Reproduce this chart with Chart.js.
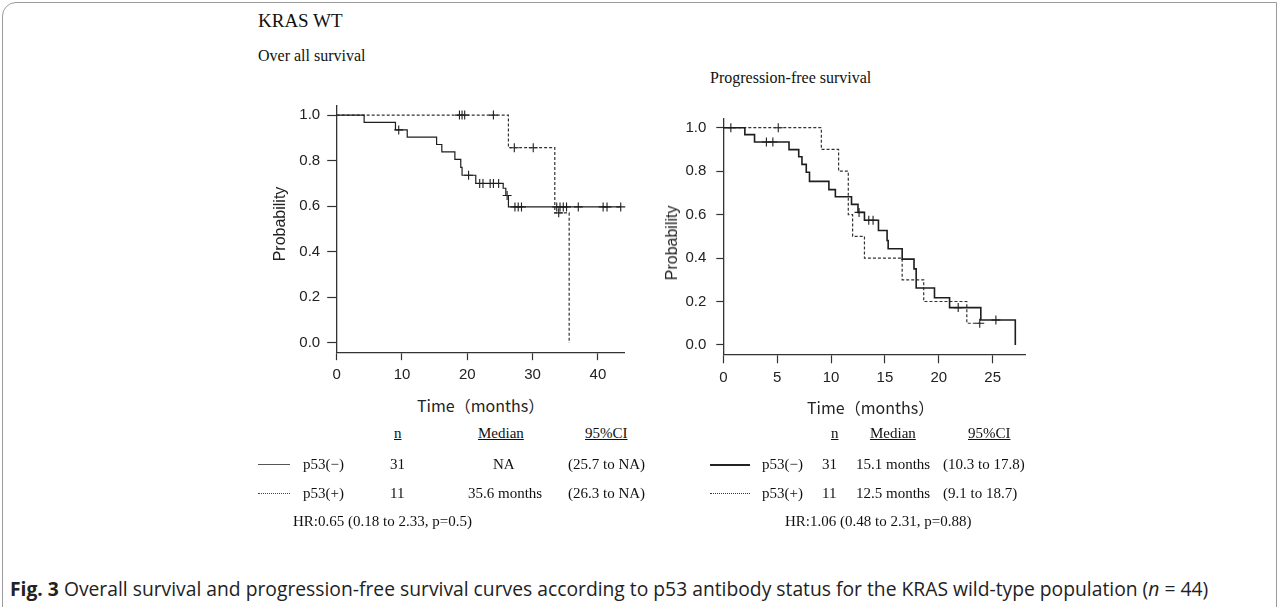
<!DOCTYPE html>
<html>
<head>
<meta charset="utf-8">
<script src="https://cdn.jsdelivr.net/npm/chart.js@4.4.1/dist/chart.umd.min.js"></script>
<style>
  html,body{margin:0;padding:0;background:#fff;}
  body{width:1281px;height:607px;position:relative;overflow:hidden;font-family:"Liberation Serif",serif;color:#111;}
  .abs{position:absolute;white-space:nowrap;}
  .serif{font-family:"Liberation Serif",serif;}
  .frame{position:absolute;left:2px;top:2px;width:1275px;height:620px;border:1px solid #9a9a9a;border-top-left-radius:14px;box-sizing:border-box;}
  canvas{position:absolute;}
  .tbl{font-size:15px;line-height:16px;}
  .u{text-decoration:underline;}
  .axt{font-family:"Noto Sans CJK JP",sans-serif;font-size:16px;line-height:16px;color:#222;}
  .prob{font-family:"Liberation Sans",sans-serif;font-size:16px;line-height:16px;color:#222;transform:translate(-50%,-50%) rotate(-90deg);}
  .cap{font-family:"Open Sans",sans-serif;font-size:19.3px;line-height:20px;color:#222;}
</style>
</head>
<body>
<div class="frame"></div>

<div class="abs serif" style="left:258px;top:10px;font-size:19px;line-height:22px;">KRAS WT</div>
<div class="abs serif" style="left:258px;top:47px;font-size:16px;line-height:18px;">Over all survival</div>
<div class="abs serif" style="left:710px;top:69px;font-size:16px;line-height:18px;">Progression-free survival</div>

<canvas id="os" width="420" height="300" style="left:230px;top:90px;"></canvas>
<canvas id="pfs" width="430" height="290" style="left:620px;top:100px;"></canvas>

<div class="abs prob" style="left:280px;top:224px;">Probability</div>
<div class="abs prob" style="left:672px;top:243px;">Probability</div>
<div class="abs axt" style="left:417px;top:397px;">Time（months）</div>
<div class="abs axt" style="left:807px;top:399px;">Time（months）</div>

<!-- left table -->
<div class="abs tbl u" style="left:394px;top:425px;">n</div>
<div class="abs tbl u" style="left:478px;top:425px;">Median</div>
<div class="abs tbl u" style="left:585px;top:425px;">95%CI</div>
<div class="abs" style="left:258px;top:464px;width:32px;border-top:1px solid #555;"></div>
<div class="abs tbl" style="left:303px;top:456px;">p53(−)</div>
<div class="abs tbl" style="left:390px;top:456px;">31</div>
<div class="abs tbl" style="left:493px;top:456px;">NA</div>
<div class="abs tbl" style="left:568px;top:456px;">(25.7 to NA)</div>
<div class="abs" style="left:258px;top:493px;width:32px;border-top:1px dotted #444;"></div>
<div class="abs tbl" style="left:303px;top:485px;">p53(+)</div>
<div class="abs tbl" style="left:390px;top:485px;">11</div>
<div class="abs tbl" style="left:468px;top:485px;">35.6 months</div>
<div class="abs tbl" style="left:568px;top:485px;">(26.3 to NA)</div>
<div class="abs tbl" style="left:293px;top:513px;">HR:0.65 (0.18 to 2.33, p=0.5)</div>

<!-- right table -->
<div class="abs tbl u" style="left:831px;top:425px;">n</div>
<div class="abs tbl u" style="left:870px;top:425px;">Median</div>
<div class="abs tbl u" style="left:968px;top:425px;">95%CI</div>
<div class="abs" style="left:710px;top:464px;width:40px;border-top:2px solid #222;"></div>
<div class="abs tbl" style="left:762px;top:456px;">p53(−)</div>
<div class="abs tbl" style="left:822px;top:456px;">31</div>
<div class="abs tbl" style="left:856px;top:456px;">15.1 months</div>
<div class="abs tbl" style="left:943px;top:456px;">(10.3 to 17.8)</div>
<div class="abs" style="left:710px;top:493px;width:40px;border-top:1.5px dotted #333;"></div>
<div class="abs tbl" style="left:762px;top:485px;">p53(+)</div>
<div class="abs tbl" style="left:822px;top:485px;">11</div>
<div class="abs tbl" style="left:856px;top:485px;">12.5 months</div>
<div class="abs tbl" style="left:943px;top:485px;">(9.1 to 18.7)</div>
<div class="abs tbl" style="left:785px;top:513px;">HR:1.06 (0.48 to 2.31, p=0.88)</div>

<div class="abs cap" style="left:10px;top:579px;"><b>Fig. 3</b> Overall survival and progression-free survival curves according to p53 antibody status for the KRAS wild-type population (<i>n</i> = 44)</div>

<script>
// ---------- Overall survival ----------
const osNegTime = [0, 4.2, 9.0, 10.8, 15.3, 16.1, 18.1, 19.0, 19.2, 21.3, 25.5, 25.9, 26.3, 43.5];
const osNegSurv = [1, 0.968, 0.935, 0.903, 0.871, 0.839, 0.806, 0.771, 0.736, 0.700, 0.679, 0.647, 0.597, 0.597];
const osNegCensor = [9.5, 20.2, 21.9, 22.4, 23.5, 24.0, 24.8, 26.1, 27.3, 27.8, 28.3, 33.7, 34.2, 34.7, 35.2, 37.0, 40.8, 41.4, 43.5];
const osPosTime = [0, 26.3, 33.4, 35.6];
const osPosSurv = [1, 0.857, 0.571, 0];
const osPosCensor = [18.8, 19.2, 19.6, 24.0, 27.2, 30.1, 34.0];
const osXTicks = [0, 10, 20, 30, 40];

// ---------- Progression-free survival ----------
const pfsNegTime = [0, 2.0, 2.9, 6.1, 7.0, 7.3, 7.7, 8.0, 9.8, 10.4, 11.9, 12.5, 13.1, 14.4, 15.2, 15.3, 16.6, 17.7, 17.9, 19.6, 21.0, 23.9, 27.1];
const pfsNegSurv = [1, 0.968, 0.934, 0.899, 0.866, 0.831, 0.795, 0.753, 0.715, 0.682, 0.647, 0.610, 0.574, 0.527, 0.481, 0.443, 0.395, 0.350, 0.262, 0.217, 0.172, 0.115, 0];
const pfsNegCensor = [0.7, 4.0, 4.6, 12.6, 13.5, 13.9, 21.8, 25.3];
const pfsPosTime = [0, 9.1, 10.7, 11.6, 12.0, 13.1, 16.6, 18.6, 22.6, 24.0];
const pfsPosSurv = [1, 0.9, 0.8, 0.6, 0.5, 0.4, 0.3, 0.2, 0.1, 0.1];
const pfsPosCensor = [5.1, 23.8];
const pfsXTicks = [0, 5, 10, 15, 20, 25];

const yTicks = [0, 0.2, 0.4, 0.6, 0.8, 1.0];

function km(times, surv){ return times.map((t,i)=>({x:t, y:surv[i]})); }
function levelAt(times, surv, t){ let v = surv[0]; for(let i=0;i<times.length;i++){ if(times[i] <= t) v = surv[i]; } return v; }
function cens(times, surv, c){ return c.map(t=>({x:t, y:levelAt(times, surv, t)})); }

const tickFont = {family:'"Liberation Sans", Arial, sans-serif', size:15};

function makeChart(id, cfg){
  const g = cfg.geom;
  return new Chart(document.getElementById(id), {
    type:'line',
    data:{datasets:[
      {data:km(cfg.negT, cfg.negS), stepped:true, borderColor:'#1e1e1e', borderWidth:cfg.solidW, pointRadius:0, fill:false, clip:false},
      {data:km(cfg.posT, cfg.posS), stepped:true, borderColor:'#333', borderWidth:1.2, borderDash:[3,2], pointRadius:0, fill:false, clip:false},
      {data:cens(cfg.negT, cfg.negS, cfg.negC), showLine:false, pointStyle:'cross', pointRadius:4.5, borderColor:'#1e1e1e', borderWidth:1.1, clip:false},
      {data:cens(cfg.posT, cfg.posS, cfg.posC), showLine:false, pointStyle:'cross', pointRadius:4.5, borderColor:'#1e1e1e', borderWidth:1.1, clip:false}
    ]},
    options:{
      responsive:false, animation:false, devicePixelRatio:1,
      layout:{padding:{left:0, top:g.top, right:g.right, bottom:0}},
      plugins:{legend:{display:false}, tooltip:{enabled:false}},
      elements:{line:{tension:0}},
      scales:{
        x:{type:'linear', min:0, max:cfg.xMax,
           afterBuildTicks(s){ s.ticks = cfg.xTicks.map(v=>({value:v})); },
           afterFit(s){ s.height = g.bottom; },
           ticks:{color:'#222', font:tickFont, padding:g.xPad, maxRotation:0, autoSkip:false},
           grid:{drawOnChartArea:false, drawTicks:true, tickLength:g.xTick, color:'#333', tickColor:'#333', tickWidth:1.2},
           border:{display:true, color:'#333', width:1.3}},
        y:{type:'linear', min:-0.043, max:1.04,
           afterBuildTicks(s){ s.ticks = yTicks.map(v=>({value:v})); },
           afterFit(s){ s.width = g.left; },
           ticks:{color:'#222', font:tickFont, padding:g.yPad, callback:v=>Number(v).toFixed(1), autoSkip:false},
           grid:{drawOnChartArea:false, drawTicks:true, tickLength:g.yTick, color:'#333', tickColor:'#333', tickWidth:1.2},
           border:{display:true, color:'#333', width:1.3}}
      }
    }
  });
}

makeChart('os', {negT:osNegTime, negS:osNegSurv, negC:osNegCensor, posT:osPosTime, posS:osPosSurv, posC:osPosCensor,
  xMax:44, xTicks:osXTicks, solidW:1.2,
  geom:{left:106.7, top:10, right:26, bottom:37.3, xTick:7.5, yTick:9.5, xPad:6, yPad:7}});
makeChart('pfs', {negT:pfsNegTime, negS:pfsNegSurv, negC:pfsNegCensor, posT:pfsPosTime, posS:pfsPosSurv, posC:pfsPosCensor,
  xMax:28, xTicks:pfsXTicks, solidW:1.6,
  geom:{left:103.3, top:15, right:25, bottom:35.7, xTick:9, yTick:7, xPad:6, yPad:10}});
</script>
</body>
</html>
